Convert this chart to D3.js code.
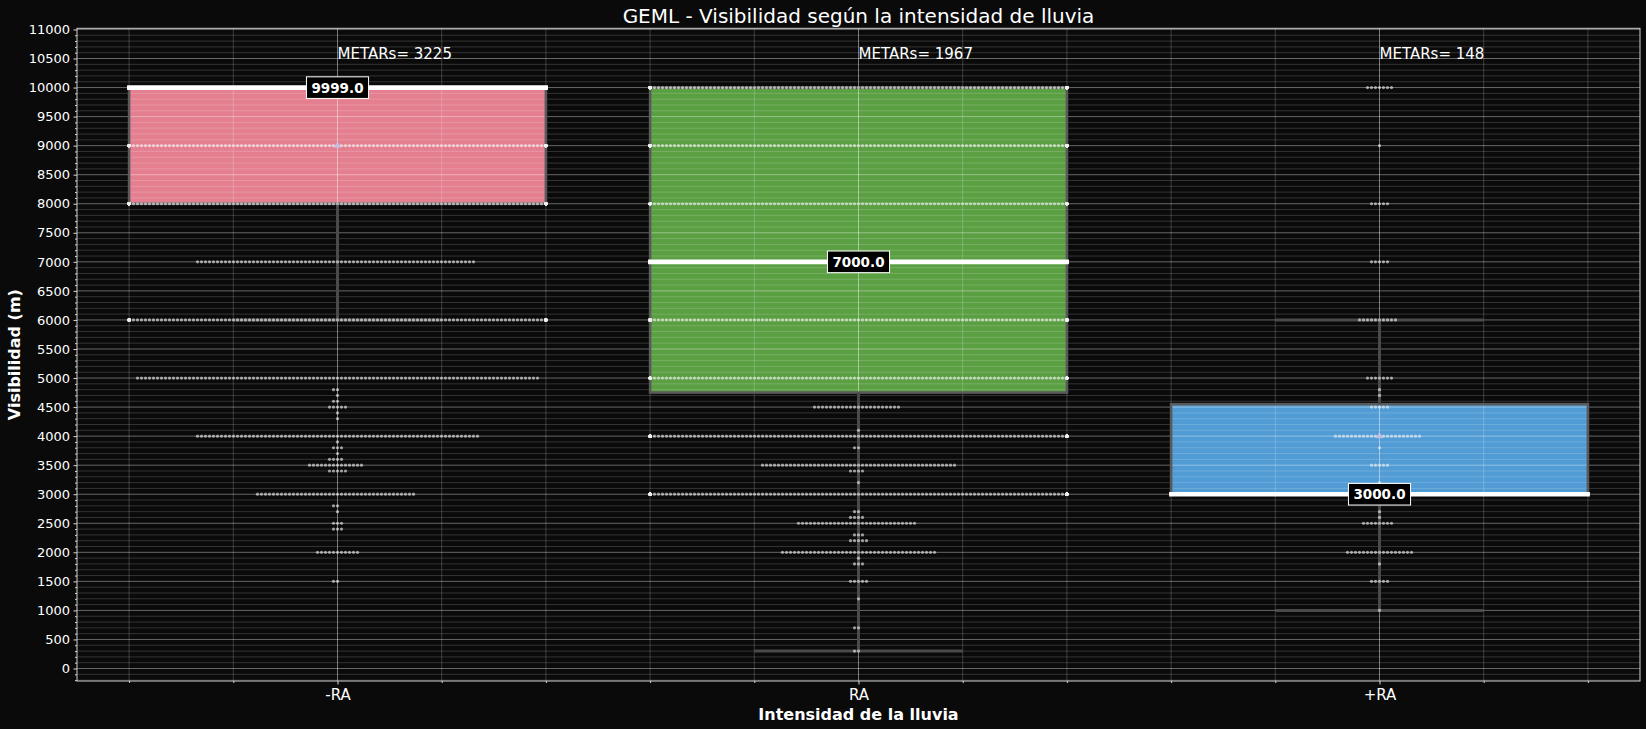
<!DOCTYPE html>
<html><head><meta charset="utf-8">
<script src="https://cdn.jsdelivr.net/npm/d3@7"></script>
<style>
html,body{margin:0;padding:0;background:#0a0a0a;}
svg{display:block;font-family:"DejaVu Sans",sans-serif;}
</style>
</head><body>
<svg id="chart" width="1646" height="729"></svg>
<script>
// ---------------- DATA ----------------
const title = "GEML - Visibilidad según la intensidad de lluvia";
const xLabel = "Intensidad de la lluvia";
const yLabel = "Visibilidad (m)";
const categories = ["-RA", "RA", "+RA"];
const boxColors = ["#e47f90", "#5b9f43", "#519cd4"];
const metarCounts = [3225, 1967, 148];

// visibility values (m) reported per category and the number of METARs at each value
const visValuesLight = [9999,9000,8000,7000,6000,5000,4800,4700,4600,4500,4400,4300,4000,3900,3800,3700,3600,3500,3400,3000,2800,2700,2500,2400,2000,1500];
const visCountsLight = [2268,150,313,70,150,101,2,1,2,5,1,1,71,1,3,1,4,14,5,40,2,1,3,3,11,2];

const visValuesModerate = [9999,9000,8000,7000,6000,5000,4500,4100,4000,3800,3500,3400,3200,3000,2700,2600,2500,2300,2200,2000,1900,1800,1500,1200,700,300];
const visCountsModerate = [545,180,150,250,200,150,22,1,166,2,49,4,1,150,2,4,30,3,5,39,1,3,5,1,2,2];

const visValuesHeavy = [9999,9000,8000,7000,6000,5000,4800,4700,4500,4000,3800,3500,3200,3000,2700,2600,2500,2000,1800,1500,1000];
const visCountsHeavy = [7,1,5,5,10,7,1,1,5,22,1,5,1,43,1,1,8,17,1,5,1];

const yTicks = [0,500,1000,1500,2000,2500,3000,3500,4000,4500,5000,5500,6000,6500,7000,7500,8000,8500,9000,9500,10000,10500,11000];
const metarTextLevel = 10500;

// ---------------- LAYOUT ----------------
const svg = d3.select("#chart");
svg.append("rect").attr("width",1646).attr("height",729).attr("fill","#0a0a0a");

const x = d3.scaleLinear().domain([-0.5, 2.5]).range([77, 1640]);
const y = d3.scaleLinear().domain([-215, 11020]).range([681, 28.3]);

const groups = [
  {values: visValuesLight, counts: visCountsLight},
  {values: visValuesModerate, counts: visCountsModerate},
  {values: visValuesHeavy, counts: visCountsHeavy}
];

function expand(values, counts){
  const out = [];
  values.forEach((v,i)=>{ for(let k=0;k<counts[i];k++) out.push(v); });
  return out;
}

const stats = groups.map(g=>{
  const s = d3.sort(expand(g.values, g.counts));
  const q1 = d3.quantileSorted(s, 0.25), med = d3.quantileSorted(s, 0.5), q3 = d3.quantileSorted(s, 0.75);
  const iqr = q3 - q1;
  const lo = d3.min(s.filter(v => v >= q1 - 1.5*iqr));
  const hi = d3.max(s.filter(v => v <= q3 + 1.5*iqr));
  return {q1, med, q3, lo, hi, mean: d3.mean(s)};
});

const boxW = 0.8, capW = 0.4;

// boxes
const gBox = svg.append("g");
stats.forEach((st,i)=>{
  gBox.append("rect")
    .attr("x", x(i - boxW/2)).attr("width", x(boxW) - x(0))
    .attr("y", y(st.q3)).attr("height", y(st.q1) - y(st.q3))
    .attr("fill", boxColors[i]);
});

// grid
const gGrid = svg.append("g");
const yMinor = d3.range(-200, 11001, 100).filter(v => v % 500 !== 0);
const xMinor = d3.range(-4, 25, 2).map(v=>v/10).filter(v => Math.abs(v - Math.round(v)) > 1e-6);
gGrid.selectAll(".ymin").data(yMinor).join("line")
  .attr("x1", 77).attr("x2", 1640).attr("y1", d=>y(d)).attr("y2", d=>y(d))
  .attr("stroke","#fff").attr("stroke-opacity",0.17).attr("stroke-width",1);
gGrid.selectAll(".xmin").data(xMinor).join("line")
  .attr("y1", 28.3).attr("y2", 681).attr("x1", d=>x(d)).attr("x2", d=>x(d))
  .attr("stroke","#fff").attr("stroke-opacity",0.2).attr("stroke-width",1);
gGrid.selectAll(".ymaj").data(yTicks).join("line")
  .attr("x1", 77).attr("x2", 1640).attr("y1", d=>y(d)).attr("y2", d=>y(d))
  .attr("stroke","#fff").attr("stroke-opacity",0.38).attr("stroke-width",1);
gGrid.selectAll(".xmaj").data(d3.range(categories.length)).join("line")
  .attr("y1", 28.3).attr("y2", 681).attr("x1", d=>x(d)).attr("x2", d=>x(d))
  .attr("stroke","#fff").attr("stroke-opacity",0.45).attr("stroke-width",1);

// box outlines, whiskers, caps
const gLines = svg.append("g");
stats.forEach((st,i)=>{
  gLines.append("rect")
    .attr("x", x(i - boxW/2)).attr("width", x(boxW) - x(0))
    .attr("y", y(st.q3)).attr("height", y(st.q1) - y(st.q3))
    .attr("fill","none").attr("stroke","#5a5a5a").attr("stroke-width",2.6);
  const cx = x(i);
  [[st.q1, st.lo],[st.q3, st.hi]].forEach(([a,b])=>{
    gLines.append("line").attr("x1",cx).attr("x2",cx).attr("y1",y(a)).attr("y2",y(b))
      .attr("stroke","#4a4a4a").attr("stroke-width",3);
    gLines.append("line").attr("x1",x(i-capW/2)).attr("x2",x(i+capW/2)).attr("y1",y(b)).attr("y2",y(b))
      .attr("stroke","#4a4a4a").attr("stroke-width",3);
  });
});

// swarm points
const step = 4.0;
const gutter = x(boxW/2) - x(0);
const gDots = svg.append("g");
groups.forEach((g,i)=>{
  const cx = x(i);
  g.values.forEach((v,j)=>{
    const n = g.counts[j];
    const pts = [];
    for(let k=0;k<n;k++){
      let off = k===0 ? 0 : (k%2===1 ? -((k+1)/2)*step : (k/2)*step);
      off = Math.max(-gutter, Math.min(gutter, off));
      pts.push(off);
    }
    gDots.selectAll(null).data(pts).join("circle")
      .attr("cx", d=>cx+d).attr("cy", y(v)).attr("r",1.6)
      .attr("fill","#f0f0f0").attr("fill-opacity",0.62);
  });
});

// medians, means, labels
const gMed = svg.append("g");
stats.forEach((st,i)=>{
  gMed.append("line")
    .attr("x1", x(i-boxW/2)-2).attr("x2", x(i+boxW/2)+2)
    .attr("y1", y(st.med)).attr("y2", y(st.med))
    .attr("stroke","#fff").attr("stroke-width",4.6);
  gMed.append("path")
    .attr("d", d3.symbol(d3.symbolTriangle, 24)())
    .attr("transform", `translate(${x(i)},${y(st.mean)})`)
    .attr("fill","#c2bde4").attr("fill-opacity",0.9);
});
stats.forEach((st,i)=>{
  const g = gMed.append("g");
  const t = g.append("text")
    .attr("x", x(i)).attr("y", y(st.med)).attr("text-anchor","middle")
    .attr("dominant-baseline","central")
    .attr("font-size","13.5px").attr("font-weight","bold").attr("fill","#fff")
    .text(d3.format(".1f")(st.med));
  const bb = t.node().getBBox();
  g.insert("rect","text")
    .attr("x", bb.x-5).attr("y", y(st.med)-10.8).attr("width", bb.width+10).attr("height", 21.6)
    .attr("fill","#000").attr("stroke","#fff").attr("stroke-width",1);
});

// METARs counts
svg.append("g").selectAll("text").data(metarCounts).join("text")
  .attr("x", (d,i)=>x(i)).attr("y", y(metarTextLevel))
  .attr("font-size","15px").attr("fill","#fff")
  .text(d=>"METARs= " + d);

// axes
const gY = svg.append("g").attr("transform","translate(77,0)")
  .call(d3.axisLeft(y).tickValues(yTicks).tickSize(3.5).tickPadding(3.5).tickFormat(d3.format("d")));
const gYm = svg.append("g").attr("transform","translate(77,0)")
  .call(d3.axisLeft(y).tickValues(yMinor).tickSize(2).tickFormat(""));
const gX = svg.append("g").attr("transform","translate(0,681)")
  .call(d3.axisBottom(x).tickValues(d3.range(categories.length)).tickSize(3.5).tickPadding(5).tickFormat(i=>categories[i]));
const gXm = svg.append("g").attr("transform","translate(0,681)")
  .call(d3.axisBottom(x).tickValues(xMinor).tickSize(2).tickFormat(""));
[gY,gYm,gX,gXm].forEach(g=>{
  g.select(".domain").remove();
  g.selectAll(".tick line").attr("stroke","#d8d8d8");
  g.selectAll("text").attr("fill","#fff").attr("font-family","DejaVu Sans");
});
gY.selectAll("text").attr("font-size","13px");
gX.selectAll("text").attr("font-size","15px");

// spines
svg.append("rect").attr("x",77).attr("y",28.3).attr("width",1640-77).attr("height",681-28.3)
  .attr("fill","none").attr("stroke","#d0d0d0").attr("stroke-width",1);

// titles
svg.append("text").attr("x", x(1)).attr("y", 23).attr("text-anchor","middle")
  .attr("font-size","20px").attr("fill","#fff").text(title);
svg.append("text").attr("x", x(1)).attr("y", 720).attr("text-anchor","middle")
  .attr("font-size","16px").attr("font-weight","bold").attr("fill","#fff").text(xLabel);
svg.append("text").attr("transform", `translate(20,${(28.3+681)/2}) rotate(-90)`).attr("text-anchor","middle")
  .attr("font-size","16px").attr("font-weight","bold").attr("fill","#fff").text(yLabel);
</script>
</body></html>
